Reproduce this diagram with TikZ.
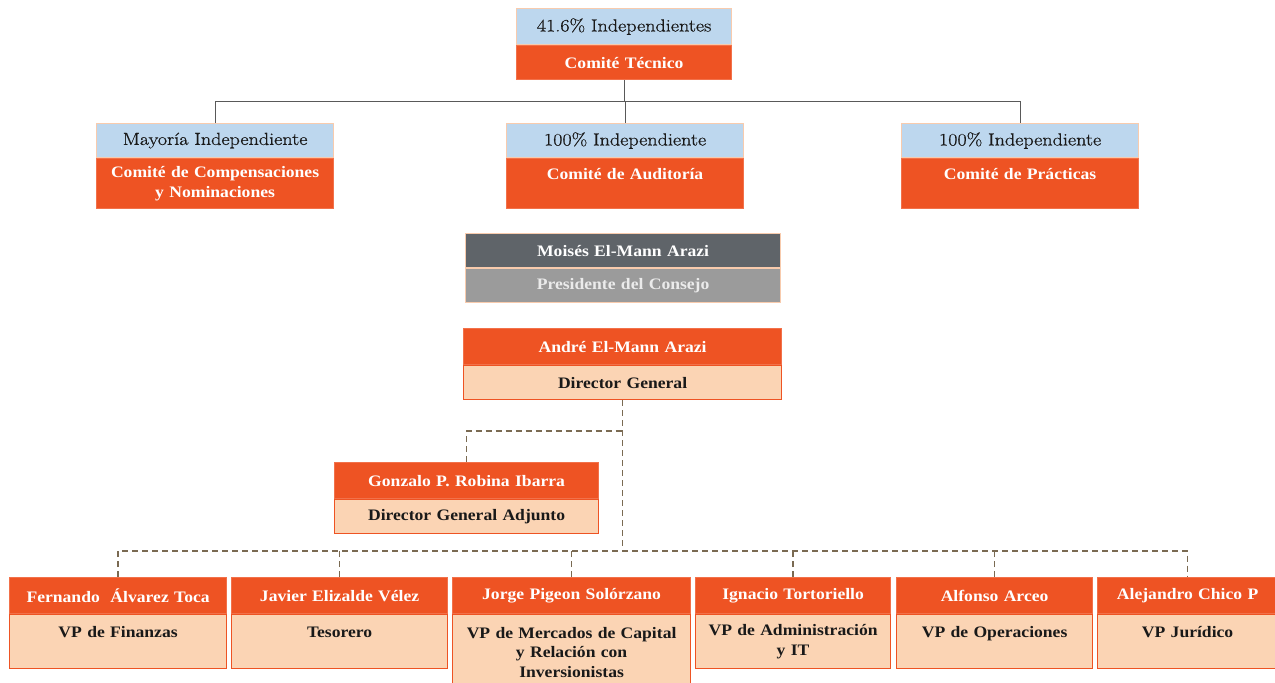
\documentclass[tikz,border=0pt]{standalone}
\usepackage{fontspec}
\setmainfont{Liberation Serif}[FakeStretch=1.1]
\newfontfamily\hdrfont{Latin Modern Roman}[FakeStretch=1.15, FakeBold=0.8]
\definecolor{orng}{HTML}{EE5323}
\definecolor{orngline}{HTML}{F2714A}
\definecolor{peach}{HTML}{FBD4B4}
\definecolor{skyb}{HTML}{BDD7EE}
\definecolor{peachline}{HTML}{F8CBAD}
\definecolor{gdarkc}{HTML}{5F6469}
\definecolor{glightc}{HTML}{9B9B9B}
\definecolor{linegray}{HTML}{595959}
\definecolor{dashbrown}{HTML}{7A6A52}
\begin{document}
\begin{tikzpicture}[x=1pt,y=-1pt,
  part/.style={anchor=north west, inner xsep=3pt, inner ysep=0pt, align=center, line width=1.2pt},
  hdr/.style={part, fill=skyb, draw=peachline, text=black!90, font=\hdrfont\fontsize{17.5}{20}\selectfont},
  org/.style={part, fill=orng, draw=orngline, text=white, font=\bfseries\fontsize{16}{19.5}\selectfont},
  pch/.style={part, fill=peach, draw=orng, text=black!90, font=\bfseries\fontsize{16}{19.5}\selectfont},
  gdark/.style={part, fill=gdarkc, draw=peachline, text=white, font=\bfseries\fontsize{16}{19.5}\selectfont},
  glight/.style={part, fill=glightc, draw=peachline, text=white!92!black, font=\bfseries\fontsize{16}{19.5}\selectfont},
  solidlink/.style={draw=linegray, line width=1pt},
  dashlink/.style={draw=dashbrown, line width=1.5pt, dash pattern=on 6pt off 4pt}]
\useasboundingbox (0,0) rectangle (1275,683);

% Comite Tecnico
\node[hdr, minimum width=215pt, text width=209pt, minimum height=36pt] (tecT) at (516,8) {41.6\% Independientes};
\node[org, minimum width=215pt, text width=209pt, minimum height=34pt] (tecB) at (tecT.south west) {Comité Técnico};

% Committees
\node[hdr, minimum width=237pt, text width=231pt, minimum height=34pt] (compT) at (96,123) {Mayoría Independiente};
\node[org, minimum width=237pt, text width=231pt, minimum height=50pt] (compB) at (compT.south west) {Comité de Compensaciones\\y Nominaciones};
\node[hdr, minimum width=237pt, text width=231pt, minimum height=34pt] (audT) at (506,123) {100\% Independiente};
\node[org, minimum width=237pt, text width=231pt, minimum height=50pt] (audB) at (audT.south west) {Comité de Auditoría\\\mbox{}};
\node[hdr, minimum width=237pt, text width=231pt, minimum height=34pt] (pracT) at (901,123) {100\% Independiente};
\node[org, minimum width=237pt, text width=231pt, minimum height=50pt] (pracB) at (pracT.south west) {Comité de Prácticas\\\mbox{}};

% Presidente
\node[gdark, minimum width=315pt, text width=309pt, minimum height=34pt] (moiT) at (465,233) {Moisés El-Mann Arazi};
\node[glight, minimum width=315pt, text width=309pt, minimum height=34pt] (moiB) at (moiT.south west) {Presidente del Consejo};

% Director General
\node[org, minimum width=318pt, text width=312pt, minimum height=36pt] (andT) at (463,328) {André El-Mann Arazi};
\node[pch, minimum width=318pt, text width=312pt, minimum height=34pt] (andB) at (andT.south west) {Director General};

% Adjunto
\node[org, minimum width=264pt, text width=258pt, minimum height=36pt] (gonT) at (334,462) {Gonzalo P. Robina Ibarra};
\node[pch, minimum width=264pt, text width=258pt, minimum height=34pt] (gonB) at (gonT.south west) {Director General Adjunto};

% VPs
\node[org, minimum width=217pt, text width=211pt, minimum height=36pt] (fenT) at (9,577) {Fernando~ Álvarez Toca};
\node[pch, minimum width=217pt, text width=211pt, minimum height=54pt] (fenB) at (fenT.south west) {VP de Finanzas\\\mbox{}};
\node[org, minimum width=216pt, text width=210pt, minimum height=36pt] (javT) at (231,577) {Javier Elizalde Vélez};
\node[pch, minimum width=216pt, text width=210pt, minimum height=54pt] (javB) at (javT.south west) {Tesorero\\\mbox{}};
\node[org, minimum width=238pt, text width=232pt, minimum height=36pt] (jorT) at (452,577) {Jorge Pigeon Solórzano};
\node[pch, minimum width=238pt, text width=232pt, minimum height=75pt] (jorB) at (jorT.south west) {VP de Mercados de Capital\\y Relación con\\Inversionistas};
\node[org, minimum width=195pt, text width=189pt, minimum height=36pt] (ignT) at (695,577) {Ignacio Tortoriello};
\node[pch, minimum width=195pt, text width=189pt, minimum height=54pt] (ignB) at (ignT.south west) {VP de Administración\\y IT};
\node[org, minimum width=196pt, text width=190pt, minimum height=36pt] (alfT) at (896,577) {Alfonso Arceo};
\node[pch, minimum width=196pt, text width=190pt, minimum height=54pt] (alfB) at (alfT.south west) {VP de Operaciones\\\mbox{}};
\node[org, minimum width=180pt, text width=174pt, minimum height=36pt] (aleT) at (1097,577) {Alejandro Chico P};
\node[pch, minimum width=180pt, text width=174pt, minimum height=54pt] (aleB) at (aleT.south west) {VP Jurídico\\\mbox{}};

% Solid connectors
\coordinate (hub) at (0,101);
\draw[solidlink] (tecB.south) -- (tecB.south |- hub);
\draw[solidlink] (compT.north) -- (compT.north |- hub) -- (pracT.north |- hub) -- (pracT.north);
\draw[solidlink] (audT.north) -- (audT.north |- hub);

% Dashed connectors
\coordinate (branch) at (0,431);
\coordinate (bus) at (0,551);
\draw[dashlink] (andB.south) -- (andB.south |- bus);
\draw[dashlink] (gonT.north) |- (andB.south |- branch);
\draw[dashlink] (fenT.north) -- (fenT.north |- bus) -- (aleT.north |- bus) -- (aleT.north);
\draw[dashlink] (javT.north) -- (javT.north |- bus);
\draw[dashlink] (jorT.north) -- (jorT.north |- bus);
\draw[dashlink] (ignT.north) -- (ignT.north |- bus);
\draw[dashlink] (alfT.north) -- (alfT.north |- bus);
\end{tikzpicture}
\end{document}
